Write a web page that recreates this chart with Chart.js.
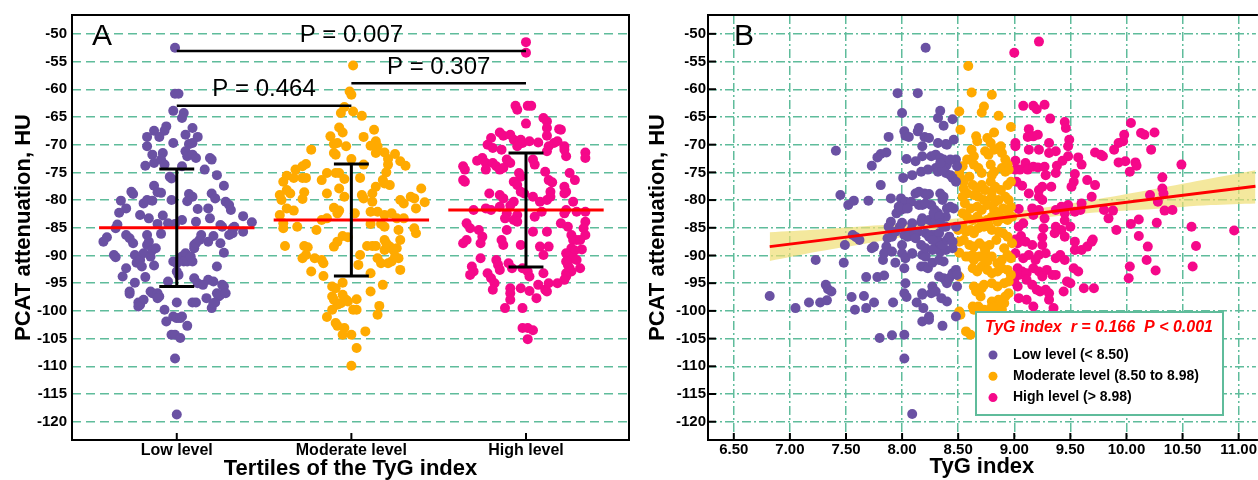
<!DOCTYPE html>
<html>
<head>
<meta charset="utf-8">
<script src="https://cdn.jsdelivr.net/npm/chart.js@4/dist/chart.umd.min.js"></script>
<style>
  html, body { margin: 0; padding: 0; background: #fff; overflow: hidden; }
  #wrapA { position: absolute; left: 0; top: 0; width: 640px; height: 480px; }
  #wrapB { position: absolute; left: 640px; top: 0; width: 618px; height: 480px; }
</style>
</head>
<body>
<div id="wrapA"><canvas id="chartA"></canvas></div>
<div id="wrapB"><canvas id="chartB"></canvas></div>
<script>
// ---- data ----
const tertileLabels = ["Low level", "Moderate level", "High level"];
const legendLabels = ["Low level (< 8.50)", "Moderate level (8.50 to 8.98)", "High level (> 8.98)"];
const yTicks = [-50, -55, -60, -65, -70, -75, -80, -85, -90, -95, -100, -105, -110, -115, -120];
const tygTicks = [6.5, 7, 7.5, 8, 8.5, 9, 9.5, 10, 10.5, 11];

// panel A: group means and SD (HU)
const meanHU = [-85.0, -83.6, -81.8];
const sdHU = [10.6, 10.1, 10.3];

// pairwise comparisons: from group, to group, bracket height (HU), label
const bracketFrom = [0, 0, 1];
const bracketTo = [2, 1, 2];
const bracketHU = [-53.1, -63.0, -58.9];
const bracketText = ["P = 0.007", "P = 0.464", "P = 0.307"];

// panel A points: [jitter from group centre, HU]
const lowA = [[-0.01,-52.5],[-0.01,-60.8],[0.01,-60.8],[-0.02,-63.9],[0.04,-64.3],[0.03,-65.2],[-0.06,-66.7],[-0.07,-67.5],[-0.13,-67.5],[0.09,-67.0],
[-0.17,-68.6],[-0.17,-70.3],[-0.10,-68.6],[-0.02,-69.7],[0.12,-68.6],[0.05,-68.2],[0.07,-69.9],[0.09,-69.7],[-0.14,-71.8],[-0.13,-73.3],
[-0.08,-71.5],[-0.09,-72.7],[0.05,-71.2],[0.06,-72.1],[0.09,-71.8],[0.11,-72.4],[0.19,-72.4],[0.20,-72.7],[-0.18,-73.8],[-0.07,-73.6],
[0.03,-73.9],[-0.04,-75.8],[-0.03,-76.1],[0.16,-74.5],[0.23,-75.5],[0.27,-77.4],[-0.13,-77.4],[-0.26,-78.5],[-0.25,-78.9],[-0.11,-78.6],
[-0.09,-78.7],[0.07,-78.9],[0.09,-79.4],[0.20,-78.8],[0.22,-79.7],[-0.32,-80.1],[-0.19,-80.6],[-0.17,-80.0],[-0.14,-80.1],[-0.03,-80.0],
[0.06,-80.2],[0.28,-80.3],[0.30,-80.9],[0.31,-81.8],[-0.29,-81.5],[-0.33,-82.3],[0.12,-81.6],[0.18,-81.5],[-0.21,-82.7],[-0.08,-82.8],
[0.03,-83.6],[-0.01,-84.3],[-0.05,-84.2],[0.11,-83.9],[0.19,-83.3],[0.25,-84.5],[0.38,-82.9],[0.43,-84.0],[-0.16,-83.3],[-0.11,-84.3],
[-0.34,-84.4],[-0.35,-85.1],[0.32,-85.1],[0.32,-86.0],[-0.40,-86.7],[-0.42,-87.5],[-0.36,-89.9],[-0.35,-90.3],[-0.29,-86.3],[-0.27,-86.9],
[-0.25,-87.8],[-0.24,-89.9],[-0.23,-91.3],[-0.21,-90.8],[-0.20,-92.0],[-0.19,-89.6],[-0.17,-88.1],[-0.16,-87.5],[-0.17,-86.3],[-0.15,-90.2],
[-0.14,-89.0],[-0.13,-91.8],[-0.12,-88.7],[-0.09,-86.1],[-0.31,-93.8],[-0.24,-94.9],[-0.18,-93.9],[-0.15,-96.5],[-0.14,-96.8],[-0.11,-96.8],
[-0.10,-97.4],[-0.05,-94.7],[-0.27,-96.5],[-0.27,-96.9],[-0.22,-98.5],[-0.21,-98.9],[-0.19,-98.0],[-0.07,-99.8],[0.00,-98.5],[0.00,-92.9],
[0.01,-93.5],[-0.02,-91.1],[0.00,-91.4],[0.03,-90.2],[0.05,-89.6],[0.04,-91.1],[0.06,-91.1],[0.09,-91.1],[0.08,-90.2],[0.10,-88.7],
[0.10,-88.1],[0.11,-87.8],[0.13,-87.2],[0.14,-86.3],[0.10,-94.1],[0.12,-95.0],[0.18,-94.4],[0.21,-94.7],[0.23,-92.0],[0.18,-87.5],
[0.21,-86.5],[0.25,-87.8],[0.27,-89.5],[0.26,-95.3],[0.27,-95.6],[0.23,-96.8],[0.24,-97.4],[0.17,-97.7],[0.22,-98.5],[0.09,-98.5],
[0.11,-98.5],[0.20,-99.5],[0.38,-85.7],[0.33,-84.8],[0.26,-84.8],[0.30,-86.3],[-0.29,-92.3],[-0.22,-99.2],[-0.11,-97.7],[-0.06,-101.9],
[-0.02,-101.0],[0.00,-101.3],[0.02,-101.3],[0.03,-101.0],[0.06,-102.7],[-0.03,-104.3],[-0.01,-104.3],[0.02,-104.9],[-0.01,-108.6],[0.00,-118.7],
[0.15,-95.3],[0.21,-98.6],[0.25,-97.1],[0.28,-96.8]];

const moderateA = [[0.01,-55.7],[-0.01,-60.4],[0.00,-61.0],[-0.04,-63.2],[-0.06,-64.3],[0.01,-64.0],[0.06,-64.8],[-0.07,-66.9],[-0.05,-67.8],[-0.12,-68.5],
[0.13,-67.3],[0.07,-68.6],[-0.10,-69.9],[-0.08,-69.7],[-0.03,-70.3],[-0.23,-70.9],[0.14,-69.4],[0.15,-70.3],[0.11,-70.2],[-0.10,-71.5],
[-0.09,-71.8],[0.00,-72.6],[0.19,-71.4],[0.25,-71.7],[0.14,-71.5],[0.21,-72.6],[0.21,-73.6],[-0.26,-73.5],[0.07,-73.6],[0.28,-73.0],
[0.31,-73.8],[0.20,-75.0],[-0.14,-75.1],[-0.09,-75.1],[-0.07,-75.1],[-0.28,-76.0],[-0.17,-76.4],[-0.04,-76.2],[0.05,-76.0],[0.18,-76.4],
[0.19,-77.0],[0.22,-77.3],[0.14,-77.6],[0.40,-77.9],[-0.27,-78.6],[-0.14,-78.8],[-0.07,-77.9],[-0.04,-79.4],[0.06,-79.1],[0.07,-79.7],
[0.12,-78.8],[0.12,-80.3],[0.28,-80.0],[0.30,-80.6],[0.34,-79.4],[0.36,-79.7],[0.42,-80.4],[0.37,-81.5],[-0.10,-81.4],[-0.08,-82.4],
[-0.07,-81.9],[-0.14,-83.3],[-0.17,-83.6],[0.02,-82.4],[0.11,-82.1],[0.15,-82.1],[0.19,-82.7],[0.23,-82.4],[0.26,-83.3],[0.30,-83.3],
[0.11,-84.3],[0.17,-84.3],[0.19,-84.8],[0.27,-85.4],[0.36,-85.1],[-0.20,-85.4],[-0.05,-86.5],[-0.02,-86.7],[-0.28,-73.9],[-0.37,-75.6],
[-0.39,-76.7],[-0.32,-74.5],[-0.33,-76.0],[-0.26,-76.0],[-0.37,-78.2],[-0.35,-78.8],[-0.41,-79.1],[-0.40,-80.0],[-0.28,-79.8],[-0.37,-81.5],
[-0.33,-81.9],[-0.41,-82.7],[-0.39,-84.2],[-0.39,-85.1],[-0.31,-84.8],[-0.38,-88.3],[-0.27,-88.3],[-0.25,-88.5],[-0.26,-89.9],[-0.28,-90.5],
[-0.21,-90.5],[-0.23,-92.9],[-0.16,-91.4],[-0.17,-90.8],[-0.16,-93.7],[-0.10,-88.4],[-0.08,-87.5],[-0.11,-95.6],[-0.09,-95.9],[-0.11,-97.4],
[-0.10,-98.0],[-0.08,-98.9],[-0.06,-98.6],[-0.11,-99.8],[-0.14,-101.1],[-0.09,-102.2],[-0.08,-102.7],[-0.05,-94.9],[-0.05,-97.1],[-0.03,-98.0],
[-0.02,-98.3],[-0.04,-103.1],[-0.05,-104.3],[0.00,-104.3],[0.03,-106.7],[0.00,-109.9],[0.01,-99.8],[0.03,-99.8],[0.03,-97.9],[0.08,-103.7],
[0.15,-100.7],[0.16,-99.1],[0.11,-96.5],[0.04,-91.7],[0.09,-88.3],[0.12,-88.3],[0.14,-88.3],[0.05,-89.9],[0.11,-93.2],[0.18,-95.3],
[0.15,-90.5],[0.17,-91.4],[0.19,-89.0],[0.21,-91.4],[0.23,-91.1],[0.22,-88.4],[0.24,-89.0],[0.26,-88.7],[0.25,-90.2],[0.27,-90.5],
[0.28,-92.6],[0.19,-87.2],[0.28,-87.2],[0.20,-87.8],[0.37,-86.0]];

const highA = [[0.00,-51.5],[0.00,-53.4],[-0.06,-63.0],[-0.05,-63.7],[0.01,-63.0],[0.03,-63.0],[0.00,-66.2],[0.10,-65.2],[0.12,-65.8],[0.12,-67.0],
[0.12,-68.4],[0.19,-67.2],[-0.15,-67.8],[-0.13,-68.4],[-0.20,-68.8],[-0.09,-68.2],[-0.07,-69.1],[-0.03,-69.1],[-0.02,-69.7],[0.02,-69.4],
[0.07,-69.6],[-0.22,-70.0],[-0.19,-70.6],[-0.14,-70.9],[-0.05,-70.3],[0.13,-70.3],[0.16,-69.7],[0.12,-71.2],[0.18,-69.4],[0.22,-70.3],
[0.23,-72.1],[0.34,-71.4],[0.34,-72.4],[-0.25,-72.4],[-0.23,-73.3],[-0.28,-72.9],[-0.19,-73.3],[-0.17,-73.9],[-0.11,-72.7],[-0.09,-73.3],
[0.04,-72.7],[0.05,-73.6],[-0.36,-73.9],[-0.35,-74.5],[-0.23,-74.5],[-0.15,-74.5],[-0.13,-74.2],[-0.04,-75.1],[-0.03,-75.8],[0.11,-74.9],
[0.25,-75.1],[0.28,-76.4],[-0.36,-76.4],[-0.35,-76.7],[-0.07,-76.7],[-0.05,-77.3],[0.13,-76.4],[0.15,-76.8],[0.22,-77.6],[0.23,-78.5],
[-0.21,-78.8],[-0.15,-79.1],[-0.13,-79.7],[-0.03,-78.5],[-0.01,-78.8],[0.14,-78.5],[0.14,-79.4],[0.04,-79.4],[-0.07,-80.3],[-0.09,-81.0],
[0.08,-80.3],[0.12,-80.0],[0.27,-80.3],[-0.30,-81.8],[-0.23,-81.5],[-0.20,-81.8],[-0.15,-81.2],[-0.11,-82.4],[-0.12,-83.3],[-0.05,-82.7],
[0.05,-83.0],[0.09,-82.1],[0.22,-82.4],[0.23,-81.8],[0.34,-82.1],[0.34,-83.9],[-0.34,-84.2],[-0.32,-85.1],[-0.27,-85.4],[-0.11,-85.4],
[-0.07,-83.6],[-0.05,-83.9],[0.04,-85.7],[0.12,-85.7],[0.24,-84.8],[0.33,-85.1],[-0.25,-86.6],[0.20,-67.3],[0.22,-70.9],[0.22,-78.8],
[0.29,-82.1],[0.34,-86.3],[0.20,-84.2],[0.26,-86.3],[0.27,-87.2],[0.29,-87.2],[0.31,-87.2],[0.32,-88.9],[0.26,-88.7],[0.28,-89.1],
[0.23,-89.6],[0.24,-90.2],[0.27,-90.5],[0.29,-90.8],[0.23,-91.1],[0.24,-91.7],[0.25,-92.3],[0.26,-92.9],[0.23,-93.2],[0.23,-93.8],
[0.22,-94.4],[0.31,-92.3],[-0.36,-87.8],[-0.34,-87.2],[-0.26,-87.8],[-0.13,-88.1],[-0.14,-87.2],[-0.03,-88.1],[0.08,-88.4],[0.13,-88.4],
[0.10,-89.9],[-0.26,-90.5],[-0.31,-92.0],[-0.30,-92.9],[-0.32,-93.5],[-0.22,-93.2],[-0.20,-94.1],[-0.17,-90.8],[-0.16,-91.7],[-0.15,-92.6],
[-0.18,-95.0],[-0.19,-96.2],[-0.10,-91.4],[-0.08,-92.3],[-0.09,-95.9],[-0.09,-96.8],[-0.09,-98.0],[-0.02,-92.3],[0.01,-92.9],[0.02,-93.8],
[-0.03,-95.9],[0.02,-96.4],[0.06,-97.7],[0.07,-95.3],[0.10,-93.2],[0.11,-96.2],[0.12,-96.5],[0.13,-95.0],[0.18,-95.0],[-0.12,-99.5],
[-0.02,-99.5],[-0.02,-103.1],[0.01,-103.1],[0.04,-103.5],[0.01,-105.1]];

// panel B points: [TyG index, HU]
const lowB = [[8.21,-52.5],[7.96,-60.7],[8.14,-60.7],[8.00,-64.3],[8.34,-63.9],[8.32,-65.2],[8.37,-66.6],[7.88,-68.6],[8.02,-67.6],[8.03,-68.4],
[8.06,-68.6],[8.15,-67.0],[8.14,-67.6],[8.20,-68.6],[8.24,-68.8],[7.41,-71.1],[8.18,-70.3],[8.32,-69.7],[8.39,-69.9],[7.86,-71.4],
[7.81,-71.7],[7.78,-72.3],[8.04,-72.6],[8.18,-72.1],[8.26,-72.1],[8.30,-71.8],[8.34,-72.4],[8.37,-72.7],[8.12,-73.0],[7.73,-73.8],
[8.17,-74.9],[8.23,-74.5],[8.30,-74.2],[8.32,-74.9],[8.40,-73.6],[8.39,-75.1],[8.09,-75.5],[8.01,-76.0],[7.81,-77.3],[7.45,-79.1],
[7.52,-80.9],[7.57,-80.1],[7.70,-80.1],[7.90,-79.7],[7.99,-79.7],[8.01,-80.6],[8.03,-80.3],[8.08,-80.3],[8.12,-78.8],[8.15,-78.5],
[8.20,-78.8],[8.24,-78.9],[8.34,-78.8],[8.15,-80.9],[8.18,-80.9],[8.26,-80.9],[8.29,-81.8],[8.32,-82.4],[8.36,-80.0],[8.37,-79.4],
[7.95,-82.4],[7.99,-81.8],[8.03,-81.5],[7.90,-83.9],[7.88,-84.8],[8.00,-84.1],[7.98,-84.8],[8.18,-83.3],[8.17,-83.9],[8.24,-83.6],
[8.27,-83.9],[8.30,-83.6],[8.39,-83.0],[8.39,-84.8],[8.08,-85.4],[8.14,-85.7],[8.02,-86.3],[8.05,-86.6],[8.21,-86.0],[8.26,-86.3],
[8.29,-86.3],[8.33,-86.0],[7.56,-86.3],[7.59,-86.7],[7.87,-86.9],[7.91,-86.6],[6.82,-97.3],[7.05,-99.5],[7.17,-98.5],[7.27,-98.5],
[7.33,-98.1],[7.23,-90.8],[7.32,-95.3],[7.34,-96.1],[7.37,-96.5],[7.48,-91.3],[7.49,-88.1],[7.62,-87.2],[7.55,-97.5],[7.58,-99.8],
[7.66,-97.3],[7.68,-99.5],[7.68,-93.9],[7.75,-98.5],[7.78,-93.9],[7.84,-93.6],[7.73,-88.7],[7.86,-88.4],[7.83,-90.8],[7.92,-98.5],
[7.94,-91.3],[7.80,-104.9],[7.91,-104.4],[8.02,-104.3],[8.02,-108.6],[8.09,-118.6],[8.00,-89.6],[8.03,-90.5],[8.02,-92.3],[8.03,-95.0],
[8.02,-96.8],[8.04,-97.5],[8.09,-89.7],[8.13,-98.5],[8.17,-92.0],[8.18,-96.8],[8.18,-97.1],[8.19,-99.5],[8.18,-101.9],[8.24,-101.0],
[8.24,-101.6],[8.18,-89.9],[8.21,-90.2],[8.20,-92.0],[8.23,-92.3],[8.27,-91.3],[8.27,-95.6],[8.26,-96.8],[8.30,-96.5],[8.36,-102.7],
[8.35,-97.7],[8.40,-98.3],[8.33,-93.8],[8.37,-94.1],[8.29,-88.7],[8.34,-89.3],[8.39,-89.0],[8.33,-90.8],[8.37,-91.1],[8.40,-95.0],
[8.42,-94.1],[8.45,-93.2],[8.48,-92.6],[8.49,-93.5],[8.49,-95.6],[8.48,-101.0],[8.45,-65.4],[8.40,-70.0],[8.46,-69.1],[8.48,-72.7],
[8.49,-73.9],[8.43,-75.5],[8.45,-76.0],[8.48,-76.7],[8.36,-74.5],[8.28,-82.4],[8.33,-83.0],[8.40,-81.5],[8.43,-81.2],[8.46,-81.5],
[8.34,-84.2],[8.37,-84.8],[8.33,-87.5],[8.36,-88.1],[8.40,-87.2],[8.42,-86.6],[8.45,-87.5],[8.48,-84.8],[7.75,-88.4],[7.84,-89.6],
[7.91,-89.3],[8.00,-88.1],[8.09,-89.6],[8.17,-88.1],[8.21,-88.7],[8.27,-89.0],[8.45,-88.7],[8.34,-73.3],[8.43,-72.7],[8.22,-79.1],
[7.97,-81.2],[8.05,-81.5],[8.21,-80.6],[7.94,-85.7],[8.09,-84.2],[8.11,-86.0],[8.12,-86.9],[8.24,-86.6],[8.27,-87.2]];

const moderateB = [[8.59,-55.8],[8.62,-60.6],[8.80,-61.0],[8.51,-64.0],[8.71,-64.2],[8.73,-63.1],[8.86,-64.8],[8.97,-66.8],[8.82,-67.8],[8.52,-67.3],
[8.66,-68.5],[8.67,-69.4],[8.76,-68.8],[8.79,-69.7],[8.62,-70.9],[8.64,-72.1],[8.58,-72.7],[8.54,-73.9],[8.51,-75.1],[8.74,-71.2],
[8.77,-71.8],[8.82,-70.9],[8.86,-70.6],[8.89,-71.5],[8.88,-70.3],[8.92,-72.7],[8.94,-73.6],[8.64,-73.6],[8.68,-74.2],[8.71,-75.1],
[8.79,-73.6],[8.82,-74.9],[8.80,-75.5],[8.89,-74.2],[8.92,-74.9],[8.95,-74.5],[8.52,-76.0],[8.55,-76.7],[8.60,-75.8],[8.63,-77.3],
[8.67,-77.9],[8.71,-77.3],[8.74,-78.2],[8.79,-76.7],[8.83,-77.6],[8.80,-78.5],[8.88,-78.2],[8.94,-77.3],[8.97,-76.7],[8.55,-77.9],
[8.58,-78.8],[8.54,-79.4],[8.64,-79.1],[8.68,-79.4],[8.73,-80.0],[8.80,-79.4],[8.83,-80.3],[8.86,-80.0],[8.92,-79.4],[8.95,-80.0],
[8.56,-80.6],[8.61,-81.5],[8.67,-81.2],[8.71,-81.8],[8.76,-80.9],[8.82,-81.8],[8.86,-82.4],[8.90,-81.5],[8.95,-82.1],[8.97,-81.2],
[8.54,-82.4],[8.58,-83.0],[8.63,-83.6],[8.67,-83.0],[8.71,-83.9],[8.76,-83.6],[8.80,-83.0],[8.85,-83.9],[8.89,-83.3],[8.94,-83.6],
[8.98,-83.0],[8.54,-84.8],[8.57,-85.7],[8.61,-85.4],[8.64,-86.0],[8.68,-85.1],[8.73,-84.8],[8.77,-84.5],[8.80,-85.4],[8.50,-85.4],
[8.51,-87.5],[8.55,-87.2],[8.60,-88.1],[8.64,-88.4],[8.69,-87.8],[8.73,-88.4],[8.78,-88.1],[8.84,-87.2],[8.51,-89.5],[8.57,-90.2],
[8.63,-89.9],[8.69,-90.2],[8.74,-89.2],[8.52,-100.7],[8.57,-103.7],[8.61,-104.3],[8.60,-90.2],[8.64,-90.8],[8.73,-90.5],[8.76,-91.1],
[8.80,-90.2],[8.85,-91.4],[8.89,-90.8],[8.94,-89.9],[8.97,-90.5],[8.63,-92.3],[8.67,-92.9],[8.71,-92.0],[8.76,-92.6],[8.80,-93.2],
[8.85,-92.9],[8.89,-92.3],[8.94,-92.6],[8.97,-93.5],[8.64,-95.6],[8.69,-95.9],[8.73,-95.3],[8.80,-95.0],[8.85,-95.6],[8.91,-95.0],
[8.95,-94.7],[8.70,-97.4],[8.80,-98.3],[8.83,-98.9],[8.86,-98.0],[8.91,-98.6],[8.92,-97.4],[8.63,-99.2],[8.64,-99.8],[8.79,-99.5],
[8.85,-100.1],[8.89,-99.8],[8.51,-93.8],[8.90,-86.0],[8.94,-86.6],[8.86,-85.7],[8.98,-87.8],[8.91,-88.7],[8.66,-96.5],[8.71,-95.9],
[8.88,-98.3],[8.95,-96.8],[8.51,-100.1],[8.68,-99.2],[8.73,-99.8]];

const highB = [[9.22,-51.4],[9.00,-53.4],[9.08,-63.0],[9.17,-63.0],[9.20,-63.6],[9.27,-62.8],[9.32,-65.3],[9.45,-65.9],[9.46,-67.0],[9.49,-69.1],
[9.48,-70.3],[10.04,-66.1],[9.98,-68.2],[9.97,-69.4],[9.93,-69.7],[9.89,-70.9],[10.13,-67.9],[10.16,-68.2],[10.25,-67.8],[10.22,-70.9],
[9.13,-67.2],[9.12,-68.6],[9.17,-68.5],[9.21,-68.2],[9.01,-69.7],[9.01,-70.3],[9.13,-70.9],[9.22,-70.9],[9.31,-69.7],[9.31,-71.5],
[9.37,-71.2],[9.72,-71.4],[9.77,-71.8],[9.79,-72.1],[9.48,-72.1],[9.57,-72.3],[9.60,-73.6],[9.43,-72.9],[9.93,-73.2],[9.99,-73.0],
[10.03,-74.9],[10.08,-73.2],[10.09,-73.8],[10.49,-73.6],[9.01,-72.9],[9.01,-74.5],[9.05,-74.5],[9.10,-73.3],[9.12,-74.5],[9.17,-74.0],
[9.21,-74.1],[9.27,-74.0],[9.28,-75.5],[9.37,-75.1],[9.38,-73.8],[9.54,-75.3],[9.53,-76.7],[9.51,-77.6],[9.65,-76.4],[9.72,-77.3],
[9.69,-79.4],[9.02,-76.7],[9.07,-77.4],[9.13,-78.8],[9.22,-78.2],[9.22,-79.4],[9.25,-77.6],[9.25,-80.0],[9.33,-77.6],[10.32,-75.9],
[10.32,-77.9],[10.33,-78.8],[10.21,-79.1],[10.28,-80.3],[10.34,-81.9],[10.41,-81.8],[9.80,-81.8],[9.88,-81.9],[9.84,-83.3],[9.60,-80.6],
[9.59,-81.8],[9.54,-82.1],[9.48,-80.9],[9.42,-81.2],[9.37,-81.8],[9.45,-82.4],[9.16,-81.5],[9.17,-82.7],[9.22,-81.8],[9.27,-83.3],
[9.04,-81.6],[9.45,-83.7],[9.42,-85.4],[9.37,-84.8],[9.36,-86.0],[9.45,-86.6],[9.50,-84.8],[9.26,-85.1],[9.25,-86.7],[9.91,-85.4],
[10.04,-84.3],[10.11,-83.5],[10.11,-86.5],[10.27,-84.1],[10.58,-84.8],[10.96,-85.5],[9.70,-87.1],[9.01,-87.1],[9.06,-86.5],[9.04,-84.8],
[9.08,-84.2],[9.03,-87.8],[9.10,-87.5],[9.16,-88.1],[9.25,-88.1],[9.01,-89.6],[9.08,-90.5],[9.13,-89.9],[9.19,-90.8],[9.22,-89.9],
[9.28,-89.6],[9.37,-90.5],[9.41,-89.9],[9.45,-90.8],[9.54,-89.0],[9.60,-89.0],[9.65,-88.4],[9.69,-87.5],[9.54,-87.5],[9.03,-92.3],
[9.07,-92.9],[9.04,-93.5],[9.11,-93.2],[9.17,-92.3],[9.22,-92.9],[9.25,-93.8],[9.29,-92.6],[9.34,-93.5],[9.37,-93.5],[9.00,-94.7],
[9.03,-95.6],[9.11,-94.4],[9.16,-95.3],[9.20,-96.2],[9.23,-96.5],[9.28,-96.2],[9.31,-96.8],[9.04,-97.7],[9.11,-98.0],[9.17,-99.2],
[9.31,-98.0],[9.35,-99.5],[9.44,-96.5],[9.47,-94.7],[9.50,-95.0],[9.62,-95.9],[9.71,-95.9],[9.53,-92.3],[9.57,-92.9],[10.03,-92.0],
[10.02,-94.1],[10.19,-88.4],[10.18,-90.8],[10.26,-92.7],[10.62,-88.3],[10.59,-92.0]];

// panel B: fitted line and its 95% band
const fitX = [6.82, 11.15];
const fitY = [-88.4, -77.5];
const bandX = [6.82, 7.25, 7.75, 8.25, 8.75, 9.25, 9.75, 10.25, 10.75, 11.15];
const bandUpper = [-85.8, -85.3, -84.6, -83.8, -82.7, -81.4, -79.8, -78.0, -76.1, -74.6];
const bandLower = [-91.0, -89.3, -87.6, -85.8, -84.3, -83.2, -82.2, -81.6, -80.9, -80.6];
const fitNote = "TyG index  r = 0.166  P < 0.001";

// ---- styling ----
const FONT = '"Liberation Sans", Arial, Helvetica, sans-serif';
Chart.defaults.font.family = FONT;
const groupColors = ["#6a51a3", "#ffaa00", "#f5088a"];
const GRID = "#5fbc9b";
const BAND = "rgba(240, 222, 115, 0.7)";
const DOT = 5;

const tickFont = { size: 15, weight: "bold" };
const titleFont = { size: 22, weight: "bold", lineHeight: 1 };

function yAxis(width, pad, titlePad) {
  return {
    min: -123.3, max: -46.6,
    afterBuildTicks: (s) => { s.ticks = yTicks.map((v) => ({ value: v })); },
    afterFit: (s) => { s.width = width; },
    grid: { color: GRID, lineWidth: 1.5, drawTicks: false },
    ticks: { color: "#000", font: tickFont, padding: pad, autoSkip: false, callback: (v) => String(v) },
    title: { display: true, text: "PCAT attenuation, HU", color: "#000", font: titleFont, padding: { top: titlePad } },
  };
}

// ---- panel A ----
const pointSetsA = [lowA, moderateA, highA].map((g, i) => ({
  data: g.map(([j, v]) => ({ x: i + j, y: v })),
  backgroundColor: groupColors[i],
  borderWidth: 0,
  pointRadius: DOT,
  order: 3,
}));

const meanSets = meanHU.map((m, i) => ({
  type: "line",
  data: [{ x: i - 0.445, y: m }, { x: i + 0.445, y: m }],
  borderColor: "#ff0000", borderWidth: 3, pointRadius: 0, fill: false, order: 2,
}));

// whisker: top cap, stem, bottom cap (null breaks the line)
const sdSets = meanHU.map((m, i) => {
  const hi = m + sdHU[i], lo = m - sdHU[i];
  return {
    type: "line",
    data: [
      { x: i - 0.1, y: hi }, { x: i + 0.1, y: hi }, { x: i, y: null },
      { x: i, y: hi }, { x: i, y: lo }, { x: i, y: null },
      { x: i - 0.1, y: lo }, { x: i + 0.1, y: lo },
    ],
    borderColor: "#000", borderWidth: 3, pointRadius: 0, fill: false, spanGaps: false, order: 1,
  };
});

const decorA = {
  id: "decorA",
  afterDraw(chart) {
    const { ctx, chartArea: a, scales: { x, y } } = chart;
    ctx.save();
    ctx.strokeStyle = "#000";
    ctx.lineWidth = 2;
    tertileLabels.forEach((_, i) => {
      const px = x.getPixelForValue(i);
      ctx.beginPath(); ctx.moveTo(px, a.bottom); ctx.lineTo(px, a.bottom - 7); ctx.stroke();
    });
    ctx.strokeRect(a.left, a.top, a.right - a.left, a.bottom - a.top);

    ctx.lineWidth = 2.5;
    ctx.fillStyle = "#000";
    ctx.font = "24px " + FONT;
    ctx.textAlign = "center";
    ctx.textBaseline = "middle";
    bracketText.forEach((t, k) => {
      const x0 = x.getPixelForValue(bracketFrom[k]);
      const x1 = x.getPixelForValue(bracketTo[k]);
      const py = y.getPixelForValue(bracketHU[k]);
      ctx.beginPath(); ctx.moveTo(x0, py); ctx.lineTo(x1, py); ctx.stroke();
      ctx.fillText(t, (x0 + x1) / 2, py - 16);
    });

    ctx.font = "30px " + FONT;
    ctx.textAlign = "left";
    ctx.textBaseline = "alphabetic";
    ctx.fillText("A", a.left + 20, a.top + 30);
    ctx.restore();
  },
};

new Chart(document.getElementById("chartA"), {
  type: "scatter",
  data: { datasets: [...sdSets, ...meanSets, ...pointSetsA] },
  options: {
    responsive: true, maintainAspectRatio: false, animation: false, events: [],
    layout: { padding: { top: 15, right: 11, left: 0, bottom: 0 }, autoPadding: false },
    plugins: { legend: { display: false }, tooltip: { enabled: false } },
    scales: {
      x: {
        type: "linear", min: -0.6, max: 2.59,
        afterBuildTicks: (s) => { s.ticks = tertileLabels.map((_, i) => ({ value: i })); },
        afterFit: (s) => { s.height = 40; },
        grid: { display: false, drawTicks: false },
        border: { display: false },
        ticks: { color: "#000", font: { size: 16, weight: "bold" }, padding: 1, maxRotation: 0, callback: (v) => tertileLabels[v] },
        title: { display: true, text: "Tertiles of the TyG index", color: "#000", font: titleFont, padding: { bottom: 0 } },
      },
      y: { ...yAxis(72, 5, 13), border: { display: false, dash: [9, 5] } },
    },
  },
  plugins: [decorA],
});

// ---- panel B ----
const pointSetsB = [lowB, moderateB, highB].map((g, i) => ({
  data: g.map(([t, v]) => ({ x: t, y: v })),
  backgroundColor: groupColors[i],
  borderWidth: 0,
  pointRadius: DOT,
  order: 2,
}));

const decorB = {
  id: "decorB",
  afterDraw(chart) {
    const { ctx, chartArea: a, scales: { x, y } } = chart;
    ctx.save();
    // legend box
    const lx = a.left + 268, ly = a.top + 297, lw = 247, lh = 103;
    ctx.fillStyle = "#fff";
    ctx.fillRect(lx, ly, lw, lh);
    ctx.strokeStyle = GRID;
    ctx.lineWidth = 2;
    ctx.strokeRect(lx, ly, lw, lh);
    ctx.textAlign = "left";
    ctx.textBaseline = "middle";
    ctx.fillStyle = "#ff0000";
    ctx.font = "italic bold 16px " + FONT;
    ctx.fillText(fitNote, lx + 9, ly + 16);
    legendLabels.forEach((t, k) => {
      const cy = ly + 43 + k * 21.3;
      ctx.fillStyle = groupColors[k];
      ctx.beginPath(); ctx.arc(lx + 17, cy, 4.5, 0, Math.PI * 2); ctx.fill();
      ctx.fillStyle = "#000";
      ctx.font = "bold 14px " + FONT;
      ctx.fillText(t, lx + 37, cy);
    });

    // axis frame (right side is outside the picture) and inward ticks
    ctx.strokeStyle = "#000";
    ctx.lineWidth = 2;
    ctx.beginPath();
    ctx.moveTo(a.right + 2, a.top); ctx.lineTo(a.left, a.top);
    ctx.lineTo(a.left, a.bottom); ctx.lineTo(a.right + 2, a.bottom);
    ctx.stroke();
    tygTicks.forEach((v) => {
      const px = x.getPixelForValue(v);
      ctx.beginPath(); ctx.moveTo(px, a.bottom); ctx.lineTo(px, a.bottom - 7); ctx.stroke();
    });
    yTicks.forEach((v) => {
      const py = y.getPixelForValue(v);
      ctx.beginPath(); ctx.moveTo(a.left, py); ctx.lineTo(a.left + 8, py); ctx.stroke();
    });

    ctx.fillStyle = "#000";
    ctx.font = "30px " + FONT;
    ctx.textBaseline = "alphabetic";
    ctx.fillText("B", a.left + 26, a.top + 30);
    ctx.restore();
  },
};

new Chart(document.getElementById("chartB"), {
  type: "scatter",
  data: {
    datasets: [
      {
        type: "line",
        data: fitX.map((t, k) => ({ x: t, y: fitY[k] })),
        borderColor: "#ff0000", borderWidth: 3, pointRadius: 0, fill: false, order: 1,
      },
      ...pointSetsB,
      {
        type: "line",
        data: bandX.map((t, k) => ({ x: t, y: bandUpper[k] })),
        borderColor: "rgba(0,0,0,0)", backgroundColor: BAND, borderWidth: 0,
        pointRadius: 0, tension: 0.3, fill: "+1", order: 5,
      },
      {
        type: "line",
        data: bandX.map((t, k) => ({ x: t, y: bandLower[k] })),
        borderColor: "rgba(0,0,0,0)", borderWidth: 0,
        pointRadius: 0, tension: 0.3, fill: false, order: 6,
      },
    ],
  },
  options: {
    responsive: true, maintainAspectRatio: false, animation: false, events: [],
    layout: { padding: { top: 15, right: 0, left: 0, bottom: 0 }, autoPadding: false },
    plugins: { legend: { display: false }, tooltip: { enabled: false } },
    scales: {
      x: {
        type: "linear", min: 6.27, max: 11.154,
        afterBuildTicks: (s) => { s.ticks = tygTicks.map((v) => ({ value: v })); },
        afterFit: (s) => { s.height = 40; },
        grid: { color: GRID, lineWidth: 1.5, drawTicks: false },
        border: { display: false, dash: [9, 3, 2, 3] },
        ticks: { color: "#000", font: tickFont, padding: 1, maxRotation: 0, autoSkip: false, callback: (v) => Number(v).toFixed(2) },
        title: { display: true, text: "TyG index", color: "#000", font: titleFont, padding: { bottom: 2 } },
      },
      y: { ...yAxis(68, 2, 7), border: { display: false, dash: [9, 3, 2, 3] } },
    },
  },
  plugins: [decorB],
});
</script>
</body>
</html>
